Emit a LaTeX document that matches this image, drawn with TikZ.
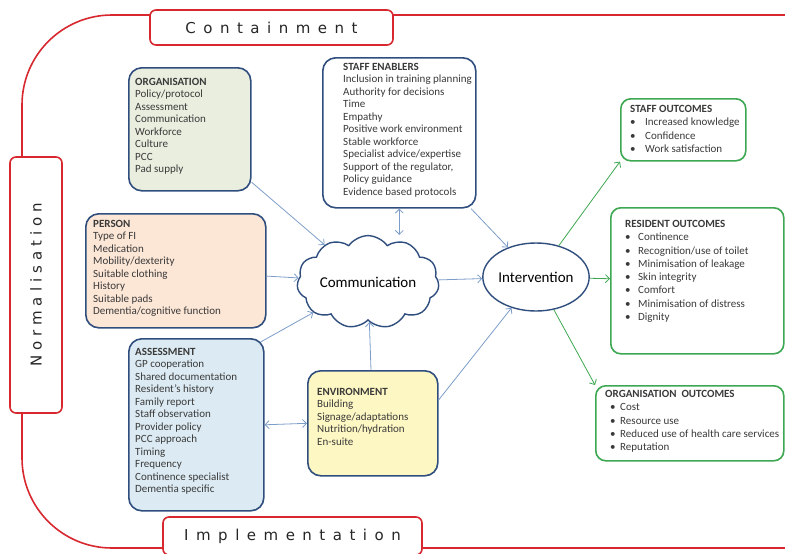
\documentclass[tikz,border=0pt]{standalone}
\usepackage{fontspec}
\setmainfont{Carlito}
\newfontfamily\framefont[LetterSpace=50]{DejaVu Sans}
\newfontfamily\sideframefont[LetterSpace=33]{DejaVu Sans}
\usetikzlibrary{positioning,arrows.meta,calc,shapes.symbols,shapes.geometric}
\definecolor{framered}{HTML}{D7282F}
\definecolor{boxblue}{HTML}{2F4E7E}
\definecolor{arrowblue}{HTML}{7C9DC9}
\definecolor{outgreen}{HTML}{3DA751}
\definecolor{orgfill}{HTML}{E9EEDF}
\definecolor{personfill}{HTML}{FCE6D6}
\definecolor{assessfill}{HTML}{DCEBF3}
\definecolor{envfill}{HTML}{FDF7C3}
\definecolor{textgray}{HTML}{3A3A3A}
\newcommand{\itm}[2][14pt]{\makebox[#1][l]{\textbullet}#2}

\begin{document}
\begin{tikzpicture}[x=1pt, y=-1pt, >={Straight Barb[length=4pt,width=8pt]},
    every node/.style={font=\fontsize{11}{12.5}\selectfont},
    entbox/.style={draw=boxblue, line width=1.6pt, rounded corners=13pt, anchor=north west, inner sep=0},
    outbox/.style={draw=outgreen, line width=1.6pt, rounded corners=10pt, anchor=north west, inner sep=0, fill=white},
    boxtext/.style={inner sep=0, align=left, anchor=north west, text=textgray},
    outtext/.style={boxtext, font=\fontsize{11}{13.3}\selectfont},
    framebox/.style={draw=framered, line width=1.6pt, fill=white, rounded corners=6pt, inner sep=0, font=\framefont\fontsize{15}{15}\selectfont, text=black!85},
    flow/.style={->, draw=arrowblue, line width=0.8pt},
    outflow/.style={->, draw=outgreen, line width=0.8pt}]
  \useasboundingbox (0,0) rectangle (785,554);

  % outer frame
  \draw[framered, line width=1.6pt, rounded corners=90pt] (800,15) -- (22,15) -- (22,548) -- (800,548);
  \node[framebox, minimum width=243pt, minimum height=35pt] (contain) at (271.5,27.5) {Containment};
  \node[framebox, minimum width=256pt, minimum height=52pt, rotate=90, font=\sideframefont\fontsize{15}{15}\selectfont] (norm) at (36,285) {Normalisation};
  \node[framebox, minimum width=259pt, minimum height=38pt] (impl) at (292.5,536) {Implementation};

  % entity boxes
  \node[entbox, fill=orgfill, minimum width=122pt, minimum height=123pt] (org) at (128,67) {};
  \node[boxtext] (orgtxt) at ($(org.north west)+(7,11)$)
    {\textbf{ORGANISATION}\\Policy/protocol\\Assessment\\Communication\\Workforce\\Culture\\PCC\\Pad supply};
  \node[entbox, fill=white, minimum width=153pt, minimum height=150pt] (staff) at (322,57) {};
  \node[boxtext] (stafftxt) at ($(staff.north west)+(21,6)$)
    {\textbf{STAFF ENABLERS}\\Inclusion in training planning\\Authority for decisions\\Time\\Empathy\\Positive work environment\\Stable workforce\\Specialist advice/expertise\\Support of the regulator,\\Policy guidance\\Evidence based protocols};
  \node[entbox, fill=personfill, minimum width=180pt, minimum height=114pt] (person) at (85,213) {};
  \node[boxtext] (persontxt) at ($(person.north west)+(8,7)$)
    {\textbf{PERSON}\\Type of FI\\Medication\\Mobility/dexterity\\Suitable clothing\\History\\Suitable pads\\Dementia/cognitive function};
  \node[entbox, fill=assessfill, minimum width=135pt, minimum height=172pt] (assess) at (128,338) {};
  \node[boxtext] (assesstxt) at ($(assess.north west)+(7,10)$)
    {\textbf{ASSESSMENT}\\GP cooperation\\Shared documentation\\Resident's history\\Family report\\Staff observation\\Provider policy\\PCC approach\\Timing\\Frequency\\Continence specialist\\Dementia specific};
  \node[entbox, fill=envfill, minimum width=130pt, minimum height=105pt] (env) at (307,370) {};
  \node[boxtext] (envtxt) at ($(env.north west)+(10,18)$)
    {\textbf{ENVIRONMENT}\\Building\\Signage/adaptations\\Nutrition/hydration\\En-suite};

  % centre
  \node[cloud, cloud puffs=11, cloud puff arc=110, aspect=1.8, draw=boxblue, line width=1.4pt,
    minimum width=140pt, minimum height=78pt, inner sep=0, font=\fontsize{15}{15}\selectfont] (comm) at (368,282) {Communication};
  \node[ellipse, draw=boxblue, line width=1.4pt, minimum width=98pt, minimum height=68pt, inner sep=0,
    font=\fontsize{15}{15}\selectfont] (interv) at (536,277) {Intervention};

  % outcome boxes
  \node[outbox, minimum width=125pt, minimum height=62pt] (staffout) at (620,98) {};
  \node[outtext] (staffouttxt) at ($(staffout.north west)+(10,7)$)
    {\textbf{STAFF OUTCOMES}\\\itm[15pt]{Increased knowledge}\\\itm[15pt]{Confidence}\\\itm[15pt]{Work satisfaction}};
  \node[outbox, minimum width=173pt, minimum height=146pt] (resout) at (610,207) {};
  \node[outtext] (resouttxt) at ($(resout.north west)+(15,13)$)
    {\textbf{RESIDENT OUTCOMES}\\\itm[13pt]{Continence}\\\itm[13pt]{Recognition/use of toilet}\\\itm[13pt]{Minimisation of leakage}\\\itm[13pt]{Skin integrity}\\\itm[13pt]{Comfort}\\\itm[13pt]{Minimisation of distress}\\\itm[13pt]{Dignity}};
  \node[outbox, minimum width=188pt, minimum height=75pt] (orgout) at (595,385) {};
  \node[outtext] (orgouttxt) at ($(orgout.north west)+(10,5)$)
    {\textbf{ORGANISATION\ \ OUTCOMES}\\\hspace*{5pt}\itm[10pt]{Cost}\\\hspace*{5pt}\itm[10pt]{Resource use}\\\hspace*{5pt}\itm[10pt]{Reduced\ use of health care services}\\\hspace*{5pt}\itm[10pt]{Reputation}};

  % connectors
  \draw[flow] (org) -- (comm);
  \draw[flow] (person) -- (comm);
  \draw[flow] ($(assess.north east)+(-4,4)$) -- (comm);
  \draw[flow,<->] (staff.south) -- (staff.south |- comm.north);
  \draw[flow] (staff) -- (interv);
  \draw[flow] (env) -- (comm);
  \draw[flow,<->] (assess.east) -- (env.west);
  \draw[flow] ($(env.north east)+(0,30)$) -- (interv);
  \draw[flow] (comm) -- (interv);
  \draw[outflow] (interv) -- (staffout.south west);
  \draw[outflow] (interv) -- (resout);
  \draw[outflow] (interv) -- (orgout.north west);
\end{tikzpicture}
\end{document}
